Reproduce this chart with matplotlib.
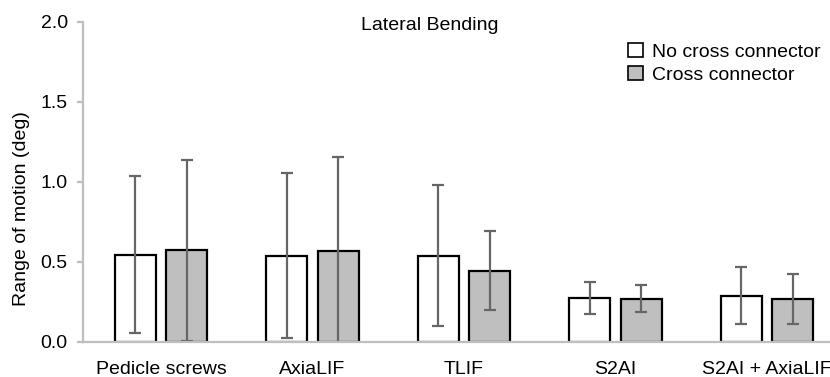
import matplotlib
matplotlib.use("Agg")
import matplotlib.pyplot as plt
import numpy as np
from matplotlib.patches import Patch

categories = ["Pedicle screws", "AxiaLIF", "TLIF", "S2AI", "S2AI + AxiaLIF"]
no_cc = [0.545, 0.54, 0.54, 0.275, 0.29]
no_cc_err = [0.49, 0.515, 0.44, 0.103, 0.177]
cc = [0.572, 0.567, 0.446, 0.27, 0.27]
cc_err = [0.565, 0.59, 0.247, 0.085, 0.157]
series_labels = ["No cross connector", "Cross connector"]
yticks = [0.0, 0.5, 1.0, 1.5, 2.0]

plt.rcParams['font.family'] = ['Liberation Sans', 'DejaVu Sans']
plt.rcParams['font.size'] = 14

W, H = 830, 377
fig = plt.figure(figsize=(W / 100, H / 100), dpi=100)
left, right, top, bottom = 83, 840.5, 22, 342
ax = fig.add_axes([left / W, (H - bottom) / H, (right - left) / W, (bottom - top) / H])

x = np.arange(len(categories))
bw = 0.27
off = 0.17
errkw = dict(ecolor="#666666", elinewidth=1.6, capsize=4.2, capthick=1.6, zorder=4)
ax.bar(x - off, no_cc, bw, color="white", edgecolor="black", linewidth=1.6,
       yerr=no_cc_err, error_kw=errkw, zorder=3)
ax.bar(x + off, cc, bw, color="#bfbfbf", edgecolor="black", linewidth=1.6,
       yerr=cc_err, error_kw=errkw, zorder=3)

ax.set_xlim(-0.515, len(categories) - 0.515)
ax.set_ylim(0, 2.0)
ax.set_yticks(yticks)
ax.set_yticklabels([f"{v:.1f}" for v in yticks])
ax.set_xticks(x)
ax.set_xticklabels(categories)

for s in ["top", "right"]:
    ax.spines[s].set_visible(False)
for s in ["left", "bottom"]:
    ax.spines[s].set_color("#bfbfbf")
    ax.spines[s].set_linewidth(1.6)
    ax.spines[s].set_zorder(5)
ax.tick_params(axis="y", length=4, width=1.6, color="#bfbfbf", pad=7)
ax.tick_params(axis="x", length=0, pad=14)

fig.text(21.5 / W, (H - 209) / H, "Range of motion (deg)", rotation=90,
         ha="center", va="center")
fig.text(430 / W, (H - 25) / H, "Lateral Bending", ha="center", va="center")

handles = [Patch(facecolor="white", edgecolor="black", linewidth=1.2),
           Patch(facecolor="#bfbfbf", edgecolor="black", linewidth=1.2)]
leg = fig.legend(handles, series_labels, loc="upper left",
                 bbox_to_anchor=(628 / W, (H - 43) / H), frameon=False,
                 handlelength=0.75, handleheight=0.75, handletextpad=0.5,
                 labelspacing=0.25, borderpad=0, borderaxespad=0)

fig.savefig("out.png", dpi=100)
